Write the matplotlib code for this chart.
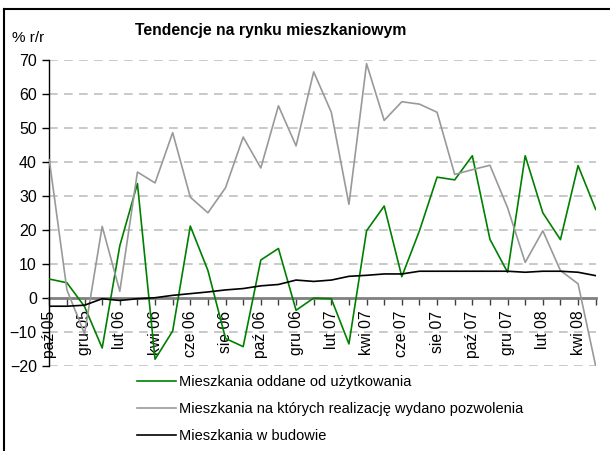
import matplotlib
matplotlib.use("Agg")
import matplotlib.pyplot as plt
from matplotlib.lines import Line2D

plt.rcParams['font.family'] = ['Liberation Sans', 'DejaVu Sans']

months = ['paź', 'lis', 'gru', 'sty', 'lut', 'mar', 'kwi', 'maj', 'cze', 'lip', 'sie', 'wrz']
years = ['05'] * 3 + ['06'] * 12 + ['07'] * 12 + ['08'] * 5
categories = [months[i % 12] + ' ' + years[i] for i in range(32)]

oddane = [5.6, 4.5, -2.5, -14.7, 15.4, 33.7, -18.0, -9.7, 21.2, 8.1, -11.9, -14.3,
          11.2, 14.6, -3.6, 0.0, -0.2, -13.5, 19.8, 27.1, 6.3, 19.8, 35.6, 34.8,
          41.9, 17.3, 7.6, 41.9, 25.1, 17.2, 39.0, 26.1]
pozwolenia = [40.7, 2.4, -10.5, 21.1, 2.0, 37.1, 33.9, 48.7, 29.7, 25.1, 32.5, 47.4,
              38.3, 56.6, 44.8, 66.6, 54.7, 27.6, 69.0, 52.3, 57.8, 57.1, 54.7, 36.4,
              37.8, 39.1, 26.6, 10.5, 19.8, 8.1, 4.2, -20.0]
w_budowie = [-2.4, -2.4, -2.1, -0.2, -0.7, -0.2, 0.1, 0.8, 1.3, 1.8, 2.4, 2.8,
             3.6, 4.0, 5.3, 4.9, 5.3, 6.4, 6.7, 7.1, 7.1, 7.9, 7.9, 7.9,
             7.9, 7.9, 7.9, 7.6, 7.9, 7.9, 7.6, 6.6]

series_names = ['Mieszkania oddane od użytkowania',
                'Mieszkania na których realizację wydano pozwolenia',
                'Mieszkania w budowie']
title = 'Tendencje na rynku mieszkaniowym'
yticks = list(range(-20, 71, 10))

fig = plt.figure(figsize=(6.10, 4.51), dpi=100)
ax = fig.add_axes([49.3 / 610, 1 - 366 / 451, 546.4 / 610, (366 - 60.3) / 451])

x = list(range(len(categories)))
for yv in yticks:
    if yv != 0:
        ax.axhline(yv, color='#c0c0c0', lw=1.2, dashes=(5.2, 3.8), zorder=1)

l1, = ax.plot(x, oddane, color='#008000', lw=1.2, zorder=3)
l2, = ax.plot(x, pozwolenia, color='#999999', lw=1.2, zorder=3)
l3, = ax.plot(x, w_budowie, color='#000000', lw=1.2, zorder=3)

ax.set_xlim(0, len(categories) - 1)
ax.set_ylim(-20, 70)
ax.set_yticks(yticks)
ax.tick_params(axis='y', direction='out', length=5, width=1, labelsize=11.5, pad=4)

ax.spines['top'].set_visible(False)
ax.spines['right'].set_visible(False)
ax.spines['left'].set_color('black')
ax.spines['left'].set_linewidth(1)
ax.spines['bottom'].set_position(('data', 0))
ax.spines['bottom'].set_color('#808080')
ax.spines['bottom'].set_linewidth(2)
ax.spines['bottom'].set_zorder(2)

ax.set_xticks(x)
ax.set_xticklabels([c if i % 2 == 0 else '' for i, c in enumerate(categories)],
                   rotation=90, fontsize=11.3)
ax.tick_params(axis='x', direction='out', length=5, width=1, color='#404040', pad=4)

fig.text(271 / 610, 1 - 31 / 451, title, ha='center', va='center',
         fontsize=11.3, fontweight='bold')
fig.text(12 / 610, 1 - 38 / 451, '% r/r', ha='left', va='center', fontsize=11)

fig.legend([l1, l2, l3], series_names, loc='upper left',
           bbox_to_anchor=(137 / 610, 1 - 375 / 451), frameon=False,
           fontsize=10.5, handlelength=2.67, handletextpad=0.2, labelspacing=0.89,
           borderaxespad=0, borderpad=0)

fig.add_artist(Line2D([4 / 610, 4 / 610], [0, 1 - 9 / 451], transform=fig.transFigure,
                      color='black', lw=1.5))
fig.add_artist(Line2D([4 / 610, 1], [1 - 9 / 451, 1 - 9 / 451], transform=fig.transFigure,
                      color='black', lw=1.5))

fig.savefig('out.png', dpi=100)
